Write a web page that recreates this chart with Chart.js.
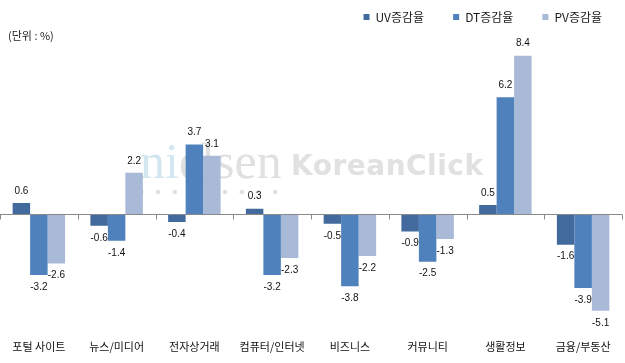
<!DOCTYPE html>
<html><head><meta charset="utf-8">
<script src="https://cdn.jsdelivr.net/npm/chart.js@4/dist/chart.umd.min.js"></script>
<style>
html,body{margin:0;padding:0;background:#fff;}
#wrap{position:relative;width:625px;height:363px;}
#unit{position:absolute;left:8px;top:27px;font:11px "Noto Sans CJK KR","Noto Sans",sans-serif;color:#222;}
</style></head>
<body>
<div id="wrap"><canvas id="c" width="625" height="363"></canvas><div id="unit">(단위 : %)</div></div>
<script>
const categories = ['포털 사이트','뉴스/미디어','전자상거래','컴퓨터/인터넷','비즈니스','커뮤니티','생활정보','금융/부동산'];
const seriesNames = ['UV증감율','DT증감율','PV증감율'];
const uvValues = [0.6,-0.6,-0.4,0.3,-0.5,-0.9,0.5,-1.6];
const dtValues = [-3.2,-1.4,3.7,-3.2,-3.8,-2.5,6.2,-3.9];
const pvValues = [-2.6,2.2,3.1,-2.3,-2.2,-1.3,8.4,-5.1];
const colors = ['#426A9D','#4F81BD','#A9BAD9'];

const watermark = {
  id:'watermark',
  beforeDatasetsDraw(chart){
    const ctx = chart.ctx; ctx.save();
    ctx.textBaseline='alphabetic'; ctx.textAlign='left';
    ctx.font = '50px "Liberation Serif", serif';
    ctx.fillStyle = '#d3e7f0';
    ctx.fillText('ni',140,178);
    const w = ctx.measureText('ni').width;
    ctx.fillStyle = '#e0e0e0';
    ctx.fillText('elsen',140+w,178);
    ctx.font = 'bold 28px "DejaVu Sans", sans-serif';
    try{ ctx.letterSpacing='0.5px'; }catch(e){}
    ctx.fillStyle = '#e1e1e1';
    ctx.fillText('KoreanClick',291,175);
    try{ ctx.letterSpacing='0px'; }catch(e){}
    ctx.fillStyle = '#e0e0e0';
    for(let i=0;i<9;i++){ ctx.beginPath(); ctx.arc(141.5+i*16.7,192,2.3,0,Math.PI*2); ctx.fill(); }
    ctx.restore();
  }
};

const decorations = {
  id:'decorations',
  afterLayout(chart){
    if(chart.legend){ chart.legend.left += 9; chart.legend.right += 9; }
  },
  afterDatasetsDraw(chart){
    const ctx = chart.ctx, xs = chart.scales.x, ys = chart.scales.y;
    const y0 = ys.getPixelForValue(0);
    ctx.save();
    ctx.strokeStyle = '#8a8a8a'; ctx.lineWidth = 1;
    const n = categories.length;
    for(let i=0;i<=n;i++){
      const x = Math.round(xs.left + i*(xs.width/n)) + 0.5;
      ctx.beginPath(); ctx.moveTo(x,Math.round(y0)+0.5); ctx.lineTo(x,Math.round(y0)+5.5); ctx.stroke();
    }
    ctx.font = '10px "Liberation Sans", Arial, sans-serif';
    ctx.fillStyle = '#111'; ctx.textAlign='center'; ctx.textBaseline='middle';
    chart.data.datasets.forEach((ds,di)=>{
      const meta = chart.getDatasetMeta(di);
      meta.data.forEach((el,i)=>{
        const v = ds.data[i];
        const y = v>=0 ? el.y-12 : el.y+12;
        ctx.fillText(v.toFixed(1), el.x, y);
      });
    });
    ctx.restore();
  }
};

new Chart(document.getElementById('c'),{
  type:'bar',
  data:{
    labels:categories,
    datasets:[
      {label:seriesNames[0],data:uvValues,backgroundColor:colors[0]},
      {label:seriesNames[1],data:dtValues,backgroundColor:colors[1]},
      {label:seriesNames[2],data:pvValues,backgroundColor:colors[2]}
    ]
  },
  options:{
    responsive:false,animation:false,
    devicePixelRatio:1,
    layout:{padding:{top:-18,left:0,right:3,bottom:-2}},
    datasets:{bar:{categoryPercentage:0.675,barPercentage:1}},
    plugins:{
      legend:{position:'top',align:'end',
        labels:{boxWidth:6,boxHeight:6,padding:29,color:'#1a1a1a',
          font:{size:12,family:'"Noto Sans CJK KR","Noto Sans",sans-serif'}}},
      tooltip:{enabled:false}
    },
    scales:{
      x:{grid:{display:false,drawTicks:false},border:{display:false},
        ticks:{padding:12,color:'#111',maxRotation:0,autoSkip:false,
          font:{size:11,family:'"Noto Sans CJK KR","Noto Sans",sans-serif'}}},
      y:{min:-6,max:9.6,display:true,
        grid:{drawTicks:false,color:(c)=>c.tick && c.tick.value===0 ? '#8a8a8a' : 'rgba(0,0,0,0)'},
        border:{display:false},
        ticks:{display:false,stepSize:1}}
    }
  },
  plugins:[watermark,decorations]
});
</script>
</body></html>
